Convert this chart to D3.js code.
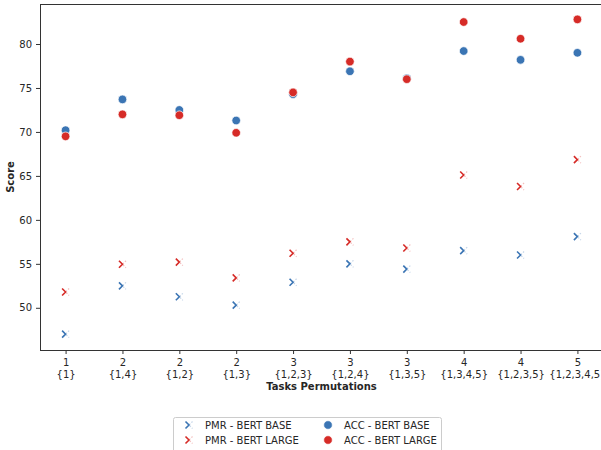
<!DOCTYPE html>
<html>
<head>
<meta charset="utf-8">
<script src="https://cdn.jsdelivr.net/npm/d3@7"></script>
<style>
  body { margin: 0; background: #fff; }
  text { font-family: "DejaVu Sans", sans-serif; fill: #262626; }
</style>
</head>
<body>
<div id="chart"></div>
<script>
// data
var nTasks = ["1","2","2","2","3","3","3","4","4","5"];
var taskSets = ["{1}","{1,4}","{1,2}","{1,3}","{1,2,3}","{1,2,4}","{1,3,5}","{1,3,4,5}","{1,2,3,5}","{1,2,3,4,5}"];
var pmrBase = [47.0,52.5,51.25,50.3,52.9,55.0,54.4,56.5,56.0,58.1];
var pmrLarge = [51.8,54.95,55.2,53.4,56.2,57.5,56.8,65.1,63.8,66.85];
var accBase = [70.2,73.7,72.5,71.3,74.3,76.9,76.1,79.2,78.2,79.0];
var accLarge = [69.5,72.0,71.9,69.9,74.5,78.0,76.0,82.5,80.6,82.8];
var yTicks = [50,55,60,65,70,75,80];

var blue = "#3b75b4", red = "#d62b27";

var W = 601, H = 450;
var m = {left: 40, right: 603, top: 4, bottom: 350};

var svg = d3.select("#chart").append("svg")
  .attr("width", W).attr("height", H);

var x = d3.scalePoint()
  .domain(d3.range(taskSets.length))
  .range([m.left, m.right])
  .padding(0.45);

var y = d3.scaleLinear()
  .domain([45.2, 84.55])
  .range([m.bottom, m.top]);

// frame
svg.append("rect")
  .attr("x", m.left + 0.5).attr("y", m.top + 0.5)
  .attr("width", m.right - m.left).attr("height", m.bottom - m.top)
  .attr("fill", "none").attr("stroke", "#333").attr("stroke-width", 1);

// y axis
var yAxis = svg.append("g")
  .attr("transform", "translate(" + m.left + ",0)")
  .call(d3.axisLeft(y).tickValues(yTicks).tickSize(4).tickPadding(4));
yAxis.select(".domain").remove();
yAxis.selectAll("line").attr("stroke", "#333");
yAxis.selectAll("text").style("font-size", "10px").attr("fill", "#262626");

// x axis
var xAxis = svg.append("g")
  .attr("transform", "translate(0," + m.bottom + ")")
  .call(d3.axisBottom(x).tickSize(4).tickFormat(""));
xAxis.select(".domain").remove();
xAxis.selectAll("line").attr("stroke", "#333");
xAxis.selectAll(".tick").each(function(d){
  var t = d3.select(this).append("text")
    .attr("text-anchor", "middle")
    .style("font-size", "10px")
    .attr("fill", "#262626");
  t.append("tspan").attr("x", 0).attr("y", 16).text(nTasks[d]);
  t.append("tspan").attr("x", 0).attr("y", 28).text(taskSets[d]);
});

// axis labels
svg.append("text")
  .attr("x", (m.left + m.right) / 2).attr("y", 390)
  .attr("text-anchor", "middle")
  .style("font-size", "10px").style("font-weight", "bold")
  .text("Tasks Permutations");

svg.append("text")
  .attr("transform", "translate(14," + ((m.top + m.bottom) / 2) + ") rotate(-90)")
  .attr("text-anchor", "middle")
  .style("font-size", "10px").style("font-weight", "bold")
  .text("Score");

// marker drawing
function drawX(g, cx, cy, col){
  var s = 3.5;
  g.append("path")
    .attr("d", "M" + (cx - s) + "," + (cy - s) + "L" + cx + "," + cy + "L" + (cx - s) + "," + (cy + s))
    .attr("stroke", col).attr("stroke-width", 1.6).attr("fill", "none");
  g.append("path")
    .attr("d", "M" + (cx + s) + "," + (cy - s) + "L" + cx + "," + cy + "L" + (cx + s) + "," + (cy + s))
    .attr("stroke", col).attr("stroke-width", 1.2).attr("fill", "none")
    .attr("stroke-opacity", 0.3).attr("stroke-dasharray", "1.5,1.5");
}
function drawDot(g, cx, cy, col){
  g.append("circle")
    .attr("cx", cx).attr("cy", cy).attr("r", 4.3)
    .attr("fill", col).attr("stroke", "#fff").attr("stroke-width", 0.7);
}

var marks = svg.append("g");
pmrBase.forEach(function(v, i){ drawX(marks, x(i), y(v), blue); });
pmrLarge.forEach(function(v, i){ drawX(marks, x(i), y(v), red); });
accBase.forEach(function(v, i){ drawDot(marks, x(i), y(v), blue); });
accLarge.forEach(function(v, i){ drawDot(marks, x(i), y(v), red); });

// legend
var lg = svg.append("g");
lg.append("rect")
  .attr("x", 173.5).attr("y", 417.5).attr("width", 268).attr("height", 40)
  .attr("rx", 2).attr("fill", "#fff").attr("stroke", "#ccc");
var entries = [
  {label: "PMR - BERT BASE", col: blue, type: "x", cx: 189, cy: 425},
  {label: "PMR - BERT LARGE", col: red, type: "x", cx: 189, cy: 440},
  {label: "ACC - BERT BASE", col: blue, type: "o", cx: 328, cy: 425},
  {label: "ACC - BERT LARGE", col: red, type: "o", cx: 328, cy: 440}
];
entries.forEach(function(e){
  if(e.type == "x"){ drawX(lg, e.cx, e.cy, e.col); }
  else { drawDot(lg, e.cx, e.cy, e.col); }
  lg.append("text")
    .attr("x", e.cx + 16).attr("y", e.cy + 3.5)
    .style("font-size", "10px")
    .text(e.label);
});
</script>
</body>
</html>
